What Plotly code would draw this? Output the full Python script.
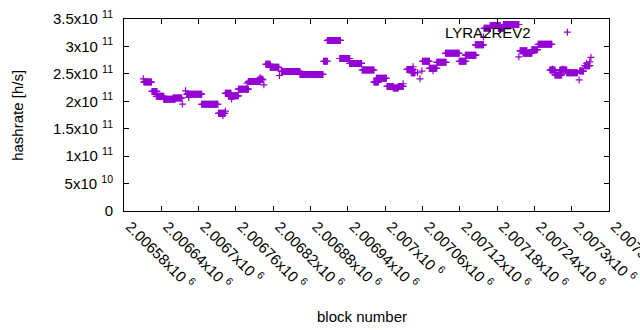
import numpy as np
import plotly.graph_objects as go

BASE = 2006580  # block number at left edge

# Plateaus: start/end block offsets from BASE and hashrate (x1e11 h/s)
seg_start = [32, 45, 52, 64, 79, 101, 125, 152, 163, 168, 184, 200, 217, 228, 235, 253, 283, 321, 327,
             347, 363, 383, 402, 406, 423, 433, 441, 455, 462, 480, 491, 503, 517, 539, 549, 565, 579,
             589, 602, 610, 637, 642, 656, 666, 685, 693, 701, 712, 733, 741]
seg_end = [44, 53, 64, 82, 93, 125, 151, 162, 172, 184, 200, 219, 223, 235, 249, 283, 320, 327, 348,
           363, 382, 402, 409, 422, 433, 441, 449, 465, 468, 491, 503, 518, 539, 550, 566, 578, 589,
           605, 610, 635, 648, 656, 665, 688, 693, 704, 712, 729, 739, 749]
seg_val = [2.35, 2.18, 2.09, 2.035, 2.06, 2.13, 1.945, 1.78, 2.145, 2.10, 2.22, 2.36, 2.40, 2.675, 2.62,
           2.545, 2.49, 2.73, 3.11, 2.78, 2.69, 2.57, 2.35, 2.42, 2.27, 2.24, 2.27, 2.58, 2.52, 2.73,
           2.60, 2.71, 2.875, 2.73, 2.84, 3.03, 3.33, 3.38, 3.33, 3.40, 2.92, 2.875, 2.94, 3.04, 2.57,
           2.48, 2.57, 2.52, 2.55, 2.65]

# Isolated points (block offset, hashrate x1e11)
pt_block = [31, 94, 99, 104, 159, 163, 173, 198, 219, 223, 225, 250, 449, 458, 465, 472, 476, 479,
            497, 578, 635, 689, 706, 713, 732, 744, 749, 751]
pt_val = [2.41, 1.95, 2.19, 2.07, 1.74, 1.82, 2.04, 2.33, 2.43, 2.39, 2.30, 2.47, 2.32, 2.58, 2.63,
          2.52, 2.41, 2.55, 2.555, 3.17, 2.81, 2.59, 2.59, 3.26, 2.39, 2.69, 2.72, 2.80]

y_tickvals = [0, 0.5e11, 1e11, 1.5e11, 2e11, 2.5e11, 3e11, 3.5e11]
y_ticktext = ["0", "5x10 <sup>10</sup>", "1x10 <sup>11</sup>", "1.5x10 <sup>11</sup>",
              "2x10 <sup>11</sup>", "2.5x10 <sup>11</sup>", "3x10 <sup>11</sup>", "3.5x10 <sup>11</sup>"]
x_tickvals = [2006580, 2006640, 2006700, 2006760, 2006820, 2006880, 2006940, 2007000,
              2007060, 2007120, 2007180, 2007240, 2007300, 2007360]
x_ticktext = ["2.00658x10 <sup>6</sup>", "2.00664x10 <sup>6</sup>", "2.0067x10 <sup>6</sup>",
              "2.00676x10 <sup>6</sup>", "2.00682x10 <sup>6</sup>", "2.00688x10 <sup>6</sup>",
              "2.00694x10 <sup>6</sup>", "2.007x10 <sup>6</sup>", "2.00706x10 <sup>6</sup>",
              "2.00712x10 <sup>6</sup>", "2.00718x10 <sup>6</sup>", "2.00724x10 <sup>6</sup>",
              "2.0073x10 <sup>6</sup>", "2.00736x10 <sup>6</sup>"]

# expand plateaus (one sample per block)
xs, ys = [], []
for s, e, v in zip(seg_start, seg_end, seg_val):
    for b in range(s, e + 1):
        xs.append(BASE + b)
        ys.append(v * 1e11)
for b, v in zip(pt_block, pt_val):
    xs.append(BASE + b)
    ys.append(v * 1e11)

COLOR = "#9400D3"
FONT = "Liberation Sans, Arial, sans-serif"

fig = go.Figure()
fig.add_trace(go.Scatter(
    x=xs, y=ys, mode="markers",
    marker=dict(symbol="cross-thin-open", size=5, color=COLOR,
                line=dict(color=COLOR, width=1.2)),
    showlegend=False, hoverinfo="skip"))

axis_common = dict(showline=True, linecolor="black", linewidth=1, mirror="allticks",
                   ticks="inside", ticklen=5, tickcolor="black", showgrid=False,
                   zeroline=False, automargin=False, ticklabeloverflow="allow",
                   tickfont=dict(family=FONT, size=15, color="black"))

fig.update_layout(
    width=640, height=330,
    margin=dict(l=124, r=31, t=19, b=119),
    paper_bgcolor="white", plot_bgcolor="white",
    font=dict(family=FONT, size=15, color="black"),
    xaxis=dict(range=[2006580, 2007360], tickvals=x_tickvals, ticktext=x_ticktext,
               tickangle=45, ticklabelshift=6, **axis_common),
    yaxis=dict(range=[0, 3.5e11], tickvals=y_tickvals, ticktext=y_ticktext,
               ticklabelstandoff=7, **axis_common),
    annotations=[
        dict(text="block number", xref="paper", yref="paper", x=0.49, y=-0.547,
             xanchor="center", yanchor="middle", showarrow=False,
             font=dict(family=FONT, size=15)),
        dict(text="hashrate [h/s]", xref="paper", yref="paper", x=-0.221, y=0.5,
             xanchor="center", yanchor="middle", textangle=-90, showarrow=False,
             font=dict(family=FONT, size=15)),
        dict(text="LYRA2REV2", xref="paper", yref="paper", x=0.843, y=0.93,
             xanchor="right", yanchor="middle", showarrow=False,
             font=dict(family=FONT, size=15)),
    ],
)

fig.write_html("out.html", config={"displayModeBar": False},
               post_script="document.body.style.margin='0';document.body.style.overflow='hidden';")
